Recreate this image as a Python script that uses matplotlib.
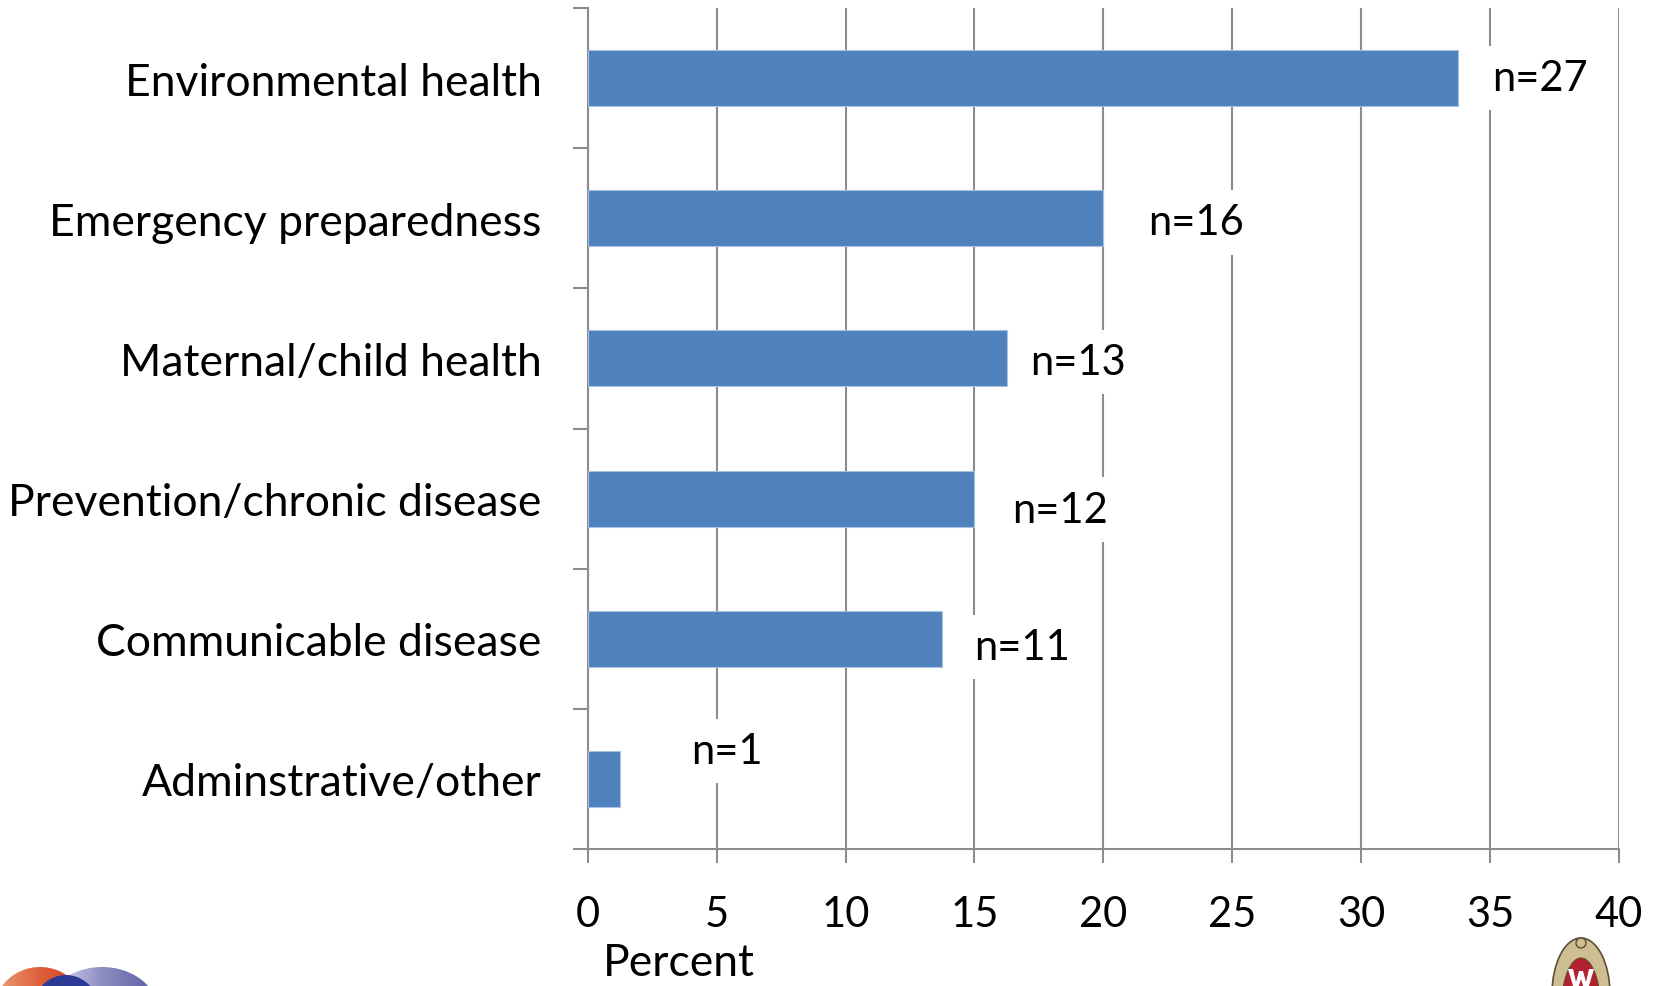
import matplotlib
matplotlib.use("Agg")
import matplotlib.pyplot as plt
import numpy as np
from matplotlib.patches import Ellipse, Polygon
from matplotlib.colors import LinearSegmentedColormap

# Share of respondents by program area
categories = [
    "Environmental health",
    "Emergency preparedness",
    "Maternal/child health",
    "Prevention/chronic disease",
    "Communicable disease",
    "Adminstrative/other",
]
percent = [33.75, 20.0, 16.25, 15.0, 13.75, 1.25]
counts = [27, 16, 13, 12, 11, 1]
xticks = [0, 5, 10, 15, 20, 25, 30, 35, 40]

# label placement: horizontal gap (pt) from bar end, vertical shift (pt, up positive)
label_dx = [25, 32, 17, 27, 23, 51]
label_dy = [0, -3, -2.5, -8, -6, 20]

plt.rcParams["font.family"] = ["Lato", "DejaVu Sans"]

W, H = 1659, 987
fig = plt.figure(figsize=(W / 100, H / 100), dpi=100)
ax = fig.add_axes([587.7 / W, 1 - 850 / H, (1619 - 587.7) / W, (850 - 9) / H])

grid_c = "#8c8c8c"
bar_c = "#4f81bd"
y = np.arange(len(categories))

ax.barh(y, percent, height=0.4, color=bar_c, edgecolor="#a9c1e0", linewidth=0.8, zorder=3)

ax.set_xlim(0, 40)
ax.set_ylim(len(categories) - 0.5, -0.5)
ax.set_xticks(xticks)
ax.set_xticklabels([str(t) for t in xticks])
ax.set_yticks(y)
ax.set_yticklabels(categories)
ax.set_yticks(np.arange(len(categories) + 1) - 0.5, minor=True)

ax.xaxis.grid(True, color=grid_c, linewidth=1.5, zorder=1)
ax.set_axisbelow(True)

for side in ["top", "right"]:
    ax.spines[side].set_visible(False)
for side in ["left", "bottom"]:
    ax.spines[side].set_color(grid_c)
    ax.spines[side].set_linewidth(1.5)

ax.tick_params(axis="y", which="major", length=0, pad=33, labelsize=32)
ax.tick_params(axis="y", which="minor", length=11, width=1.5, color=grid_c)
ax.tick_params(axis="x", which="major", length=10, width=1.5, color=grid_c,
               pad=23, labelsize=30)

ax.set_xlabel("Percent", fontsize=32)
ax.xaxis.set_label_coords(0.0886, -0.111)
ax.xaxis.label.set_horizontalalignment("center")

for yi, p, n, dx, dy in zip(y, percent, counts, label_dx, label_dy):
    ax.annotate(f"n={n}", xy=(p, yi), xytext=(dx, dy), textcoords="offset points",
                ha="left", va="center", fontsize=30, zorder=4,
                bbox=dict(boxstyle="square,pad=0.32", fc="white", ec="none"))

# logos along the bottom edge
ov = fig.add_axes([0, 0, 1, 1])
ov.set_xlim(0, W)
ov.set_ylim(H, 0)
ov.axis("off")
ov.patch.set_visible(False)

grad = np.linspace(0, 1, 256).reshape(1, -1)

lav = Ellipse((102, 1012), 112, 88, fc="none", ec="none")
ov.add_patch(lav)
cm_lav = LinearSegmentedColormap.from_list("lav", ["#e4e4f2", "#8d8ec4", "#5b5c9e"])
im = ov.imshow(grad, extent=(46, 158, 1060, 960), cmap=cm_lav, aspect="auto", zorder=2)
im.set_clip_path(lav)

org = Ellipse((40, 1012), 92, 88, fc="none", ec="none")
ov.add_patch(org)
cm_org = LinearSegmentedColormap.from_list("org", ["#e8a07a", "#e0603a", "#d03a22"])
im2 = ov.imshow(grad, extent=(-6, 86, 1060, 960), cmap=cm_org, aspect="auto", zorder=3)
im2.set_clip_path(org)

ov.add_patch(Ellipse((66, 1018), 72, 84, fc="#2b3a94", ec="none", zorder=4))

# crest
ov.add_patch(Ellipse((1581, 995), 58, 112, fc="#cdbf93", ec="#5e4e33", lw=1.2, zorder=2))
ov.add_patch(Ellipse((1581, 944), 10, 10, fc="#cdbf93", ec="#5e4e33", lw=1.0, zorder=3))
ov.add_patch(Ellipse((1581, 1005), 38, 92, fc="#b3202f", ec="#5e4e33", lw=0.8, zorder=3))
w_shape = [(1568, 970), (1573, 970), (1576, 983), (1579, 972), (1583, 972), (1586, 983),
           (1589, 970), (1594, 970), (1588, 990), (1584, 990), (1581, 980), (1578, 990),
           (1574, 990)]
ov.add_patch(Polygon(w_shape, closed=True, fc="white", ec="none", zorder=4))

fig.savefig("out.png", dpi=100)
